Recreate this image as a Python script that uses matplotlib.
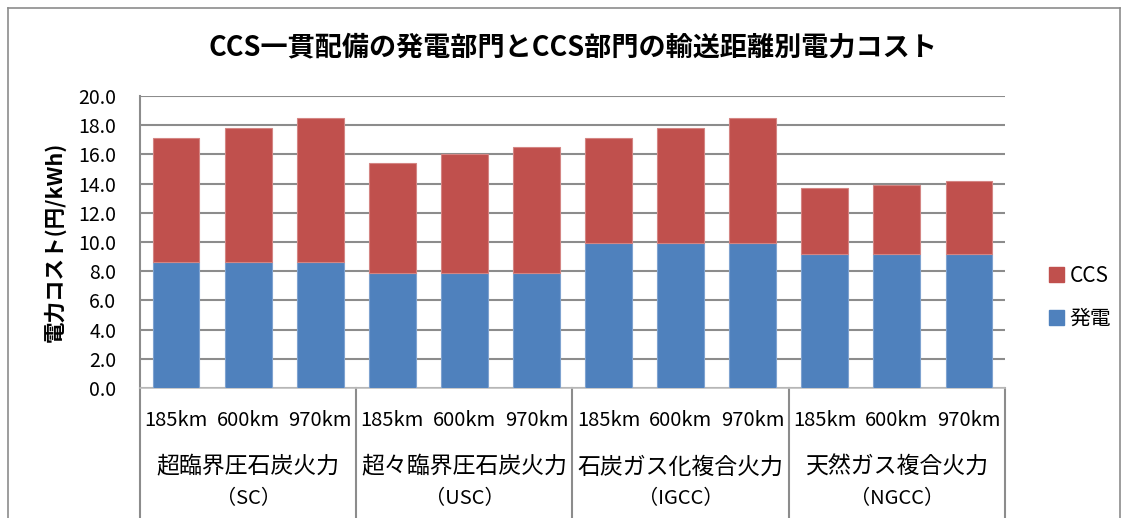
import matplotlib
matplotlib.use("Agg")
import matplotlib.pyplot as plt
import numpy as np
from matplotlib.lines import Line2D
from matplotlib.patches import Patch

plt.rcParams['font.family'] = ['Noto Sans CJK JP', 'DejaVu Sans']

# data
groups = ['超臨界圧石炭火力', '超々臨界圧石炭火力', '石炭ガス化複合火力', '天然ガス複合火力']
group_abbr = ['（SC）', '（USC）', '（IGCC）', '（NGCC）']
distances = ['185km', '600km', '970km']
gen = [8.6, 8.6, 8.6, 7.9, 7.9, 7.9, 9.9, 9.9, 9.9, 9.2, 9.2, 9.2]
total = [17.1, 17.8, 18.5, 15.4, 16.0, 16.5, 17.1, 17.8, 18.5, 13.7, 13.9, 14.2]
ccs = [t - g for t, g in zip(total, gen)]

W, H = 1126, 518
fig = plt.figure(figsize=(W / 100, H / 100), dpi=100)

# outer chart border
for xs, ys in [([8, 8], [0, 510]), ([8, 1120], [510, 510]), ([1120, 1120], [510, 0])]:
    fig.add_artist(Line2D([x / W for x in xs], [y / H for y in ys], color='#8c8c8c', lw=1.2))

ax = fig.add_axes([140 / W, 130 / H, 865 / W, 292 / H])
x = np.arange(len(gen))
ax.bar(x, gen, width=0.65, color='#4f81bd', edgecolor='#7fa3d0', linewidth=0.8, zorder=3)
ax.bar(x, ccs, bottom=gen, width=0.65, color='#c0504d', edgecolor='#d48583', linewidth=0.8, zorder=3)

ax.set_xlim(-0.5, len(gen) - 0.5)
ax.set_ylim(0, 20)
ax.set_yticks(np.arange(0, 20.1, 2))
ax.set_yticklabels([f'{v:.1f}' for v in np.arange(0, 20.1, 2)], fontsize=14)
ax.yaxis.grid(True, color='#8c8c8c', lw=1.5, zorder=0)
ax.tick_params(axis='y', length=0, pad=17)
ax.set_xticks([])
for s in ['top', 'right']:
    ax.spines[s].set_visible(False)
ax.spines['left'].set_color('#8c8c8c')
ax.spines['left'].set_linewidth(1.5)
ax.spines['bottom'].set_color('#bfbfbf')
ax.spines['bottom'].set_linewidth(1.2)

ax.set_ylabel('電力コスト(円/kWh)', fontsize=15.5, fontweight='bold', labelpad=9)

# multi-level category axis
trans = ax.get_xaxis_transform()
for b in [-0.5, 2.5, 5.5, 8.5, 11.5]:
    ax.plot([b, b], [0, -0.47], transform=trans, color='#8c8c8c', lw=1.5, clip_on=False)
for i in range(len(gen)):
    ax.text(i, -0.11, distances[i % 3], transform=trans, ha='center', va='center', fontsize=14.5)
for k, (g, a) in enumerate(zip(groups, group_abbr)):
    ax.text(3 * k + 1, -0.27, g, transform=trans, ha='center', va='center', fontsize=16.5)
    ax.text(3 * k + 1, -0.38, a, transform=trans, ha='center', va='center', fontsize=14.5)

fig.text(573 / W, 1 - 47 / H, 'CCS一貫配備の発電部門とCCS部門の輸送距離別電力コスト',
         ha='center', va='center', fontsize=19.5, fontweight='bold')

handles = [Patch(color='#c0504d'), Patch(color='#4f81bd')]
fig.legend(handles, ['CCS', '発電'], loc='center left', bbox_to_anchor=(1030 / W, 1 - 297 / H),
           frameon=False, fontsize=15, handlelength=0.75, handleheight=0.75, handletextpad=0.25,
           labelspacing=1.0)

fig.savefig('out.png', dpi=100)
